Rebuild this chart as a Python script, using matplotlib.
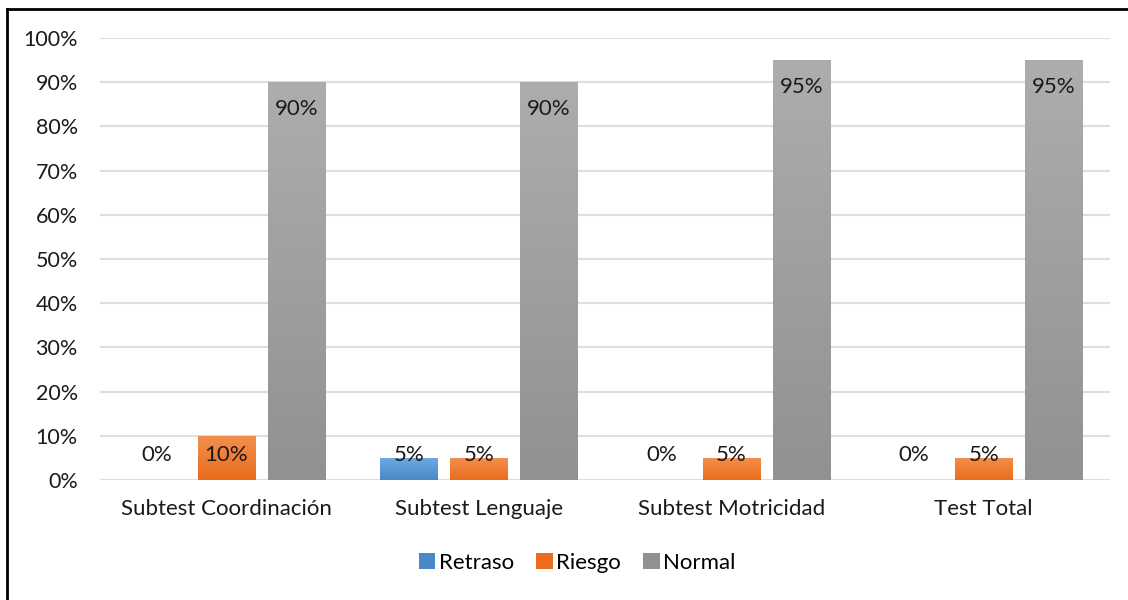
import matplotlib
matplotlib.use("Agg")
import matplotlib.pyplot as plt
import numpy as np
from matplotlib.lines import Line2D
from matplotlib.colors import LinearSegmentedColormap
from matplotlib.patches import Patch

categories = ["Subtest Coordinación", "Subtest Lenguaje", "Subtest Motricidad", "Test Total"]
series = ["Retraso", "Riesgo", "Normal"]
retraso = [0.00, 0.05, 0.00, 0.00]
riesgo = [0.10, 0.05, 0.05, 0.05]
normal = [0.90, 0.90, 0.95, 0.95]
values = [retraso, riesgo, normal]
yticks = [0.0, 0.1, 0.2, 0.3, 0.4, 0.5, 0.6, 0.7, 0.8, 0.9, 1.0]

grad = {
    "Retraso": ("#70aae0", "#4a88c9"),
    "Riesgo": ("#f2904f", "#ea6c1c"),
    "Normal": ("#adadad", "#919191"),
}

plt.rcParams['font.family'] = ['Lato', 'DejaVu Sans']
fig = plt.figure(figsize=(11.28, 6.0), dpi=100)
ax = fig.add_axes([100/1128, 1-480/600, 1010/1128, (480-38)/600])

x = np.arange(len(categories))
w = 0.226
step = 0.277
for i, (name, vals) in enumerate(zip(series, values)):
    xs = x + (i - 1) * step
    bars = ax.bar(xs, vals, width=w, color=grad[name][1], zorder=2, linewidth=0, label=name)
    cmap = LinearSegmentedColormap.from_list(name, [grad[name][1], grad[name][0]])
    for b, v in zip(bars, vals):
        if v <= 0:
            continue
        bx, by = b.get_x(), b.get_y()
        im = ax.imshow(np.linspace(0, 1, 256).reshape(-1, 1), cmap=cmap, origin='lower',
                       extent=[bx, bx + b.get_width(), by, by + b.get_height()],
                       aspect='auto', zorder=2.5, interpolation='bicubic')
        im.set_clip_path(b)
    for xi, v in zip(xs, vals):
        yl = max(v - 0.061, 0.057)
        ax.text(xi, yl, f"{round(v*100)}%", ha='center', va='center', fontsize=16,
                color='#1a1a1a', zorder=4)

ax.set_xlim(-0.5, len(categories) - 0.5)
ax.set_ylim(0, 1.0)
ax.set_yticks(yticks)
ax.set_yticklabels([f"{round(t*100)}%" for t in yticks])
ax.set_xticks(x)
ax.set_xticklabels(categories)
ax.tick_params(axis='both', length=0, colors='#1a1a1a')
ax.tick_params(axis='y', pad=16, labelsize=15.5)
ax.tick_params(axis='x', pad=14, labelsize=16)
ax.grid(axis='y', color='#dbdfe5', linewidth=1.5, zorder=0)
ax.set_axisbelow(True)
for s in ax.spines.values():
    s.set_visible(False)

handles = [Patch(facecolor=grad[n][1], label=n) for n in series]
fig.legend(handles=handles, loc='center', bbox_to_anchor=(577/1128, 1-563/600), ncol=3,
           frameon=False, fontsize=16, handlelength=0.75, handleheight=0.75,
           handletextpad=0.15, columnspacing=1.0)

fig.add_artist(Line2D([7/1128, 7/1128], [0, 1-9/600], color='black', linewidth=2, transform=fig.transFigure))
fig.add_artist(Line2D([7/1128, 1], [1-9/600, 1-9/600], color='black', linewidth=2, transform=fig.transFigure))

fig.savefig("out.png", dpi=100)
